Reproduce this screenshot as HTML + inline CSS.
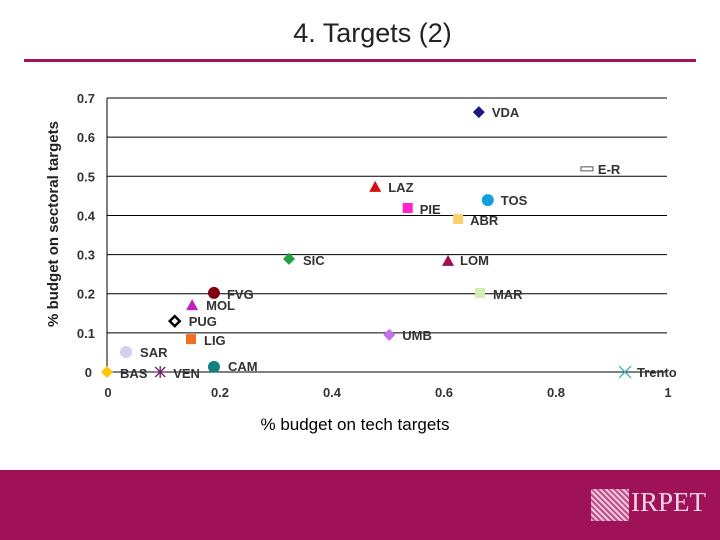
<!DOCTYPE html>
<html><head><meta charset="utf-8"><style>
body{margin:0;width:720px;height:540px;background:#fff;font-family:"Liberation Sans",sans-serif;overflow:hidden;position:relative}
</style></head><body>
<div style="position:absolute;top:18px;left:0;width:745px;text-align:center;font-size:27px;color:#222">4. Targets (2)</div>
<div style="position:absolute;top:59px;left:24px;width:672px;height:3px;background:#a0145a"></div>
<svg id="chart" width="720" height="470" style="position:absolute;left:0;top:0"></svg>
<div style="position:absolute;top:470px;left:0;width:720px;height:70px;background:#a01257"></div>
<div style="position:absolute;top:487px;left:591px;width:120px;height:36px;">
<div style="position:absolute;left:0;top:2px;width:38px;height:32px;background:repeating-linear-gradient(45deg,#f0c8dc 0 2px,#c0508a 2px 4px)"></div>
<div style="position:absolute;left:40px;top:0;font-family:'Liberation Serif',serif;font-size:27px;color:#f5d6e6">IRPET</div></div>
<script>
const names=["VDA","E-R","LAZ","PIE","TOS","ABR","SIC","LOM","FVG","MAR","MOL","PUG","UMB","LIG","SAR","CAM","BAS","VEN","Trento"];
const xs=[0.664,0.857,0.479,0.537,0.680,0.627,0.325,0.609,0.191,0.666,0.152,0.121,0.504,0.150,0.034,0.191,0,0.095,0.925];
const ys=[0.664,0.519,0.473,0.419,0.439,0.391,0.289,0.284,0.202,0.202,0.171,0.130,0.095,0.084,0.051,0.013,0,0,0];
const xTicks=[0,0.2,0.4,0.6,0.8,1];
const yTicks=[0,0.1,0.2,0.3,0.4,0.5,0.6,0.7];
const X=v=>107+v*560, Y=v=>372-v*391.4;
const svg=document.getElementById('chart');const NS='http://www.w3.org/2000/svg';
function mk(t,a,p){const e=document.createElementNS(NS,t);for(const k in a)e.setAttribute(k,a[k]);(p||svg).appendChild(e);return e;}
yTicks.forEach(t=>{const l=mk('line',{x1:107,x2:667,y1:Y(t),y2:Y(t),stroke:'#000','stroke-width':1});

const tx=mk('text',{x:t===0?92:95,y:Y(t)+5,'text-anchor':'end','font-size':13,'font-weight':'bold',fill:'#333'});tx.textContent=t;
});
const ax=mk('line',{x1:107,x2:107,y1:Y(0.7),y2:372,stroke:'#000'});

xTicks.forEach(t=>{const tx=mk('text',{x:X(t)+1,y:397,'text-anchor':'middle','font-size':13,'font-weight':'bold',fill:'#333'});tx.textContent=t;
});
const xt=mk('text',{x:355,y:430,'text-anchor':'middle','font-size':17,fill:'#000'});xt.textContent='% budget on tech targets';

const yt=mk('text',{x:0,y:0,'text-anchor':'middle','font-size':15,'font-weight':'bold',fill:'#222',transform:'translate(58,224) rotate(-90)'});yt.textContent='% budget on sectoral targets';

const styles={VDA:['dia','#1a1a80'],"E-R":['dash','#555'],LAZ:['tri','#d01010'],PIE:['sq','#ff20d0'],TOS:['circ','#10a0e0'],ABR:['sq','#ffd070'],SIC:['dia','#20a040'],LOM:['tri','#a01050'],FVG:['circ','#800010'],MAR:['sq','#d0f0b0'],MOL:['tri','#c020c0'],PUG:['odia','#000'],UMB:['dia','#c070f0'],LIG:['sq','#f07020'],SAR:['circ','#d0d0f0'],CAM:['circ','#108080'],BAS:['dia','#ffc800'],VEN:['star','#702070'],Trento:['x','#40b0c0']};
const offs={VDA:[13,5],"E-R":[11,5],LAZ:[13,5],PIE:[12,6],TOS:[13,5],ABR:[12,6],SIC:[14,6],LOM:[12,4],FVG:[13,6],MAR:[13,6],MOL:[14,5],PUG:[14,5],UMB:[13,5],LIG:[13,6],SAR:[14,5],CAM:[14,4],BAS:[13,6],VEN:[13,6],Trento:[12,5]};
names.forEach((n,i)=>{const x=X(xs[i]),y=Y(ys[i]);const [s,c]=styles[n];let m;
if(s==='dia')m=mk('polygon',{points:`${x},${y-6} ${x+6},${y} ${x},${y+6} ${x-6},${y}`,fill:c});
else if(s==='odia')m=mk('polygon',{points:`${x},${y-5} ${x+5},${y} ${x},${y+5} ${x-5},${y}`,fill:'#fff',stroke:c,'stroke-width':2.5});
else if(s==='tri')m=mk('polygon',{points:`${x},${y-6} ${x+6},${y+5} ${x-6},${y+5}`,fill:c});
else if(s==='sq')m=mk('rect',{x:x-5,y:y-5,width:10,height:10,fill:c});
else if(s==='circ')m=mk('circle',{cx:x,cy:y,r:6,fill:c});
else if(s==='dash')m=mk('rect',{x:x-6,y:y-2,width:12,height:4,fill:'#fff',stroke:c});
else if(s==='star')m=mk('path',{d:`M${x-6} ${y}H${x+6}M${x} ${y-6}V${y+6}M${x-5} ${y-5}L${x+5} ${y+5}M${x-5} ${y+5}L${x+5} ${y-5}`,stroke:c,'stroke-width':1.3});
else m=mk('path',{d:`M${x-6} ${y-6}L${x+6} ${y+6}M${x-6} ${y+6}L${x+6} ${y-6}`,stroke:c,'stroke-width':1.3});


const o=offs[n];const t=mk('text',{x:x+o[0],y:y+o[1],'font-size':13,'font-weight':'bold',fill:'#333'});t.textContent=n;

});
</script>
</body></html>
